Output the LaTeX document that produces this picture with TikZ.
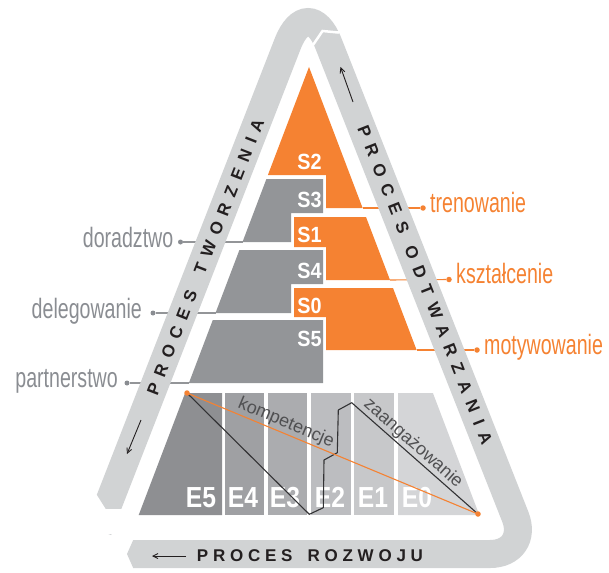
\documentclass[tikz,border=0pt]{standalone}
\usepackage{fontspec}
\setmainfont{Liberation Sans}
\newfontfamily\condfont{Liberation Sans}[FakeStretch=0.7]
\newfontfamily\sfont{Liberation Sans}[FakeStretch=0.9]
\newfontfamily\efont{Liberation Sans}[FakeStretch=0.85]
\newfontfamily\bandfontl{Liberation Sans}[LetterSpace=46]
\newfontfamily\bandfontr{Liberation Sans}[LetterSpace=50]
\newfontfamily\bandfontb{Liberation Sans}[LetterSpace=28]
\usetikzlibrary{arrows.meta}
\definecolor{orng}{RGB}{245,130,50}
\definecolor{sgray}{RGB}{147,149,152}
\definecolor{bandc}{RGB}{209,211,212}
\definecolor{lblgray}{RGB}{138,141,146}
\definecolor{txtd}{RGB}{35,31,32}
\definecolor{kcol}{RGB}{80,80,82}
\definecolor{lncol}{RGB}{50,50,52}
\definecolor{eV}{RGB}{142,143,146}
\definecolor{eIV}{RGB}{159,160,163}
\definecolor{eIII}{RGB}{171,172,175}
\definecolor{eII}{RGB}{188,189,192}
\definecolor{eI}{RGB}{199,200,202}
\definecolor{eO}{RGB}{212,213,215}
\begin{document}
\begin{tikzpicture}[x=1pt,y=-1pt,
  oblock/.style={fill=orng},
  gblock/.style={fill=sgray},
  slab/.style={text=white,inner sep=0,font=\sfont\bfseries\fontsize{22}{22}\selectfont},
  elab/.style={text=white,inner sep=0,anchor=base,font=\efont\bfseries\fontsize{29}{29}\selectfont},
  gleader/.style={draw=sgray,line width=1.1},
  oleader/.style={draw=orng,line width=1.1},
  gdot/.style={circle,fill=lblgray,inner sep=0,minimum size=5},
  odot/.style={circle,fill=orng,inner sep=0,minimum size=5.5},
  glab/.style={text=lblgray,inner sep=0,font=\condfont\fontsize{28}{28}\selectfont},
  olab/.style={text=orng,inner sep=0,font=\condfont\fontsize{28}{28}\selectfont},
  bandline/.style={draw=bandc,line width=28},
  btextl/.style={text=txtd,inner sep=0,font=\bandfontl\bfseries\fontsize{17}{17}\selectfont},
  btextr/.style={text=txtd,inner sep=0,font=\bandfontr\bfseries\fontsize{17}{17}\selectfont},
  btextb/.style={text=txtd,inner sep=0,font=\bandfontb\bfseries\fontsize{17}{17}\selectfont},
  barrow/.style={draw=txtd,line width=0.9,-{Straight Barb[length=5,width=5]}},
  curvetext/.style={inner sep=0,font=\fontsize{18}{18}\selectfont}]
\useasboundingbox (0,0) rectangle (609,572);

% ---------- pyramid blocks ----------
\fill[oblock] (309,67) -- (362.6,208) -- (326,208) -- (326,175) -- (267.9,175) -- cycle;
\fill[gblock] (266.4,179) -- (323,179) -- (323,213) -- (291,213) -- (291,242) -- (242.5,242) -- cycle;
\fill[oblock] (294,217) -- (366,217) -- (390,280) -- (326,280) -- (326,247) -- (294,247) -- cycle;
\fill[gblock] (239.4,250) -- (323,250) -- (323,284) -- (291,284) -- (291,313) -- (215.5,313) -- cycle;
\fill[oblock] (294,288) -- (393,288) -- (416.6,350) -- (326,350) -- (326,317) -- (294,317) -- cycle;
\fill[gblock] (212.8,320) -- (323,320) -- (323,383) -- (188.9,383) -- cycle;

\node[slab] (s2) at (309.5,161.5) {S2};
\node[slab] (s3) at (309.5,199.5) {S3};
\node[slab] (s1) at (309.5,234.5) {S1};
\node[slab] (s4) at (309.5,270.5) {S4};
\node[slab] (s0) at (309.5,305.5) {S0};
\node[slab] (s5) at (309.5,338.5) {S5};

% ---------- leaders ----------
\coordinate (cT) at (362.6,208);
\coordinate (cK) at (390,280);
\coordinate (cM) at (416.6,350);
\coordinate (cD) at (242.5,242);
\coordinate (cG) at (215.5,313);
\coordinate (cP) at (188.9,383);
\node[odot] (dT) at (423,208) {};
\node[odot] (dK) at (449,279.5) {};
\node[odot] (dM) at (477,350) {};
\node[gdot] (dD) at (180.5,242) {};
\node[gdot] (dG) at (153,313) {};
\node[gdot] (dP) at (127,383) {};
\draw[oleader] (cT) -- (dT);
\draw[oleader] (cK) -- (dK);
\draw[oleader] (cM) -- (dM);
\draw[gleader] (cD) -- (dD);
\draw[gleader] (cG) -- (dG);
\draw[gleader] (cP) -- (dP);

\node[olab,anchor=base west] (lT) at (430,212) {trenowanie};
\node[olab,anchor=base west] (lK) at (456,283.5) {kształcenie};
\node[olab,anchor=base west] (lM) at (484,354) {motywowanie};
\node[glab,anchor=base east] (lD) at (173.5,247) {doradztwo};
\node[glab,anchor=base east] (lG) at (142,318) {delegowanie};
\node[glab,anchor=base east] (lP) at (118,387) {partnerstwo};

% ---------- E block ----------
\fill[eV]   (185.1,393) -- (222,393) -- (222,515) -- (138.7,515) -- cycle;
\fill[eIV]  (225,393) rectangle (264,515);
\fill[eIII] (268,393) rectangle (307,515);
\fill[eII]  (311,393) rectangle (351,515);
\fill[eI]   (354,393) rectangle (394,515);
\fill[eO]   (398,393) -- (432.9,393) -- (479.3,515) -- (398,515) -- cycle;

\node[elab] (e5) at (201,507) {E5};
\node[elab] (e4) at (243,507) {E4};
\node[elab] (e3) at (285,507) {E3};
\node[elab] (e2) at (330,507) {E2};
\node[elab] (e1) at (373,507) {E1};
\node[elab] (e0) at (417,507) {E0};

\coordinate (p0) at (187,393);
\coordinate (p1) at (309.3,514.3);
\coordinate (p2) at (323.3,507.7);
\coordinate (p3) at (324,460);
\coordinate (p4) at (337.3,452.7);
\coordinate (p5) at (338.3,410);
\coordinate (p6) at (351.7,402.7);
\coordinate (p7) at (478,514);
\draw[lncol,line width=1.1,line join=round] (p0) -- (p1) -- (p2) -- (p3) -- (p4) -- (p5) -- (p6) -- (p7);
\draw[orng,line width=1.1] (p0) -- (p7);
\node[odot] (q0) at (p0) {};
\node[odot] (q7) at (p7) {};
\node[curvetext,text=kcol,rotate=-22.6] (komp) at (286,423) {kompetencje};
\node[curvetext,text=kcol,rotate=-41.4] (zaan) at (413,443.5) {zaangażowanie};

% ---------- outer band ----------
\draw[bandline] (98.1,530) -- (287.7,43.7) .. controls (298.9,14.9) and (317.2,14.8) .. (328.5,43.6)
  -- (515.3,516.8) .. controls (523.4,537.3) and (512.1,554) .. (490,554) -- (133,554);
\fill[bandc] (133.2,540) -- (127,554) -- (133.2,568) -- cycle;
\fill[white] (80,508.5) rectangle (132,534);
\fill[white] (80,495) -- (96.8,495) -- (105.5,508.8) -- (80,508.8) -- cycle;
\draw[white,line width=2.5,line join=miter] (313,45) -- (322.5,31) -- (338,32.5) -- (350,28);

\node[btextl,rotate=68.7] (tL) at (205.5,257) {PROCES\hspace{6pt} TWORZENIA};
\node[btextr,rotate=-68.5] (tR) at (425,285) {PROCES\hspace{1pt} ODTWARZANIA};
\node[btextb] (tB) at (310,555.5) {PROCES\hspace{5.5pt} ROZWOJU};

\coordinate (aL1) at (141,420);
\coordinate (aL2) at (127,454);
\coordinate (aR1) at (353,102);
\coordinate (aR2) at (340.5,67);
\coordinate (aB1) at (186,556);
\coordinate (aB2) at (152,556);
\draw[barrow] (aL1) -- (aL2);
\draw[barrow] (aR1) -- (aR2);
\draw[barrow] (aB1) -- (aB2);
\end{tikzpicture}
\end{document}
